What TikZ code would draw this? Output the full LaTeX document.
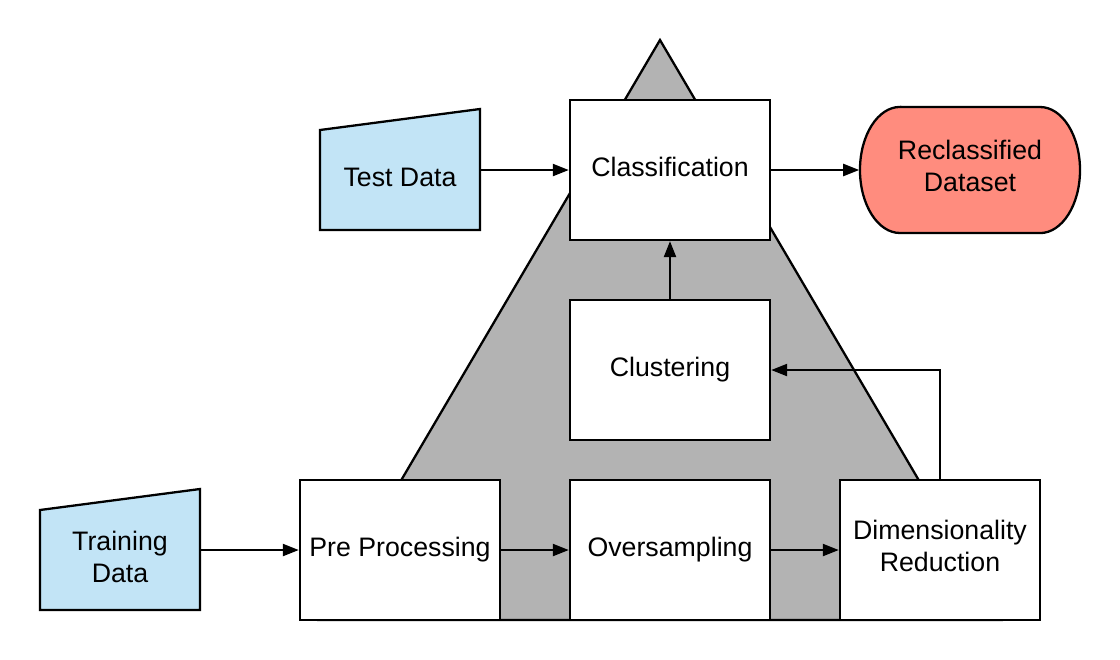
\documentclass[tikz,border=0pt]{standalone}
\usepackage{fontspec}
\setmainfont{Liberation Sans}
\usetikzlibrary{arrows.meta}
\definecolor{trigrey}{HTML}{B3B3B3}
\definecolor{inblue}{HTML}{C2E4F6}
\definecolor{salmon}{HTML}{FF8C7E}
\tikzset{
  proc/.style={draw, fill=white, line width=0.65pt, minimum width=2cm, minimum height=1.4cm, align=center, inner sep=0pt},
  holder/.style={minimum width=1.6cm, minimum height=1.2cm, inner sep=0pt},
  lbl/.style={align=center, inner sep=0pt},
  shapeline/.style={line width=0.65pt},
  arr/.style={line width=0.65pt, -{Triangle[length=0.16cm,width=0.12cm]}},
}
\begin{document}
\begin{tikzpicture}[x=0.01cm, y=-0.01cm, font=\fontsize{7.6pt}{9.2pt}\selectfont]
\useasboundingbox (0,0) rectangle (1120,660);
% grey triangle
\draw[shapeline, fill=trigrey] (660,40) -- (1001,620) -- (319,620) -- cycle;
% process boxes
\node[proc] (class) at (670,170) {\raisebox{0.03cm}[\height][\depth]{Classification}};
\node[proc] (clus) at (670,370) {Clustering};
\node[proc] (pre) at (400,550) {Pre Processing};
\node[proc] (over) at (670,550) {Oversampling};
\node[proc] (dim) at (940,550) {};
\node[lbl] (dimlbl) at (940,546) {Dimensionality\\Reduction};
% manual inputs
\node[holder] (test) at (400,170) {};
\draw[shapeline, fill=inblue] (320,230) -- (320,130) -- (480,109) -- (480,230) -- cycle;
\node[lbl] (testlbl) at (400,177) {Test Data};
\node[holder] (train) at (120,550) {};
\draw[shapeline, fill=inblue] (40,610) -- (40,510) -- (200,489) -- (200,610) -- cycle;
\node[lbl] (trainlbl) at (120,557) {Training\\Data};
% terminator
\node[minimum width=2.2cm, minimum height=1.26cm, inner sep=0pt] (recl) at (970,170) {};
\draw[shapeline, fill=salmon] (900,107) -- (1040,107)
  arc[start angle=90, end angle=0, x radius=0.4cm, y radius=0.63cm]
  arc[start angle=0, end angle=-90, x radius=0.4cm, y radius=0.63cm]
  -- (900,233)
  arc[start angle=270, end angle=180, x radius=0.4cm, y radius=0.63cm]
  arc[start angle=180, end angle=90, x radius=0.4cm, y radius=0.63cm] -- cycle;
\node[lbl] (recllbl) at (970,166) {Reclassified\\Dataset};
% connectors
\draw[arr] (test.east) -- (class.west);
\draw[arr] (class.east) -- (recl.west);
\draw[arr] (clus.north) -- (class.south);
\draw[arr] (dim.north) |- (clus.east);
\draw[arr] (train.east) -- (pre.west);
\draw[arr] (pre.east) -- (over.west);
\draw[arr] (over.east) -- (dim.west);
\end{tikzpicture}
\end{document}
